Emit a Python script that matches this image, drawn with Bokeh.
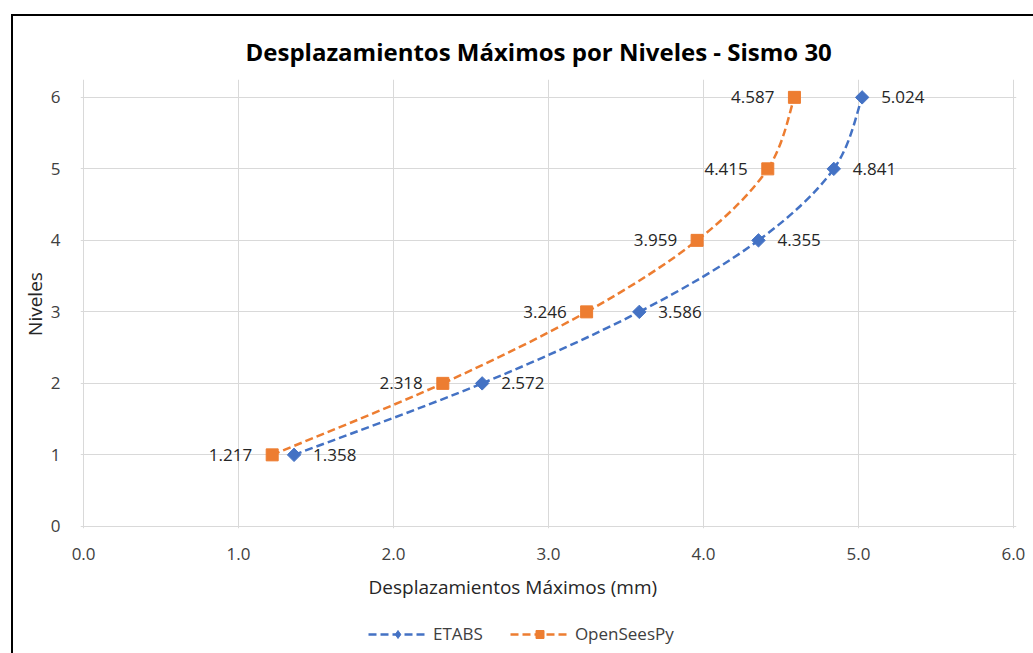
from bokeh.plotting import figure
from bokeh.layouts import column
from bokeh.models import (Range1d, Legend, LegendItem, Title, InlineStyleSheet,
                          ColumnDataSource, LabelSet, FixedTicker, PrintfTickFormatter)
from bokeh.embed import file_html
from bokeh.resources import INLINE
from bokeh.core.properties import value

# ---- data ----
niveles = [1, 2, 3, 4, 5, 6]
etabs = [1.358, 2.572, 3.586, 4.355, 4.841, 5.024]
opensees = [1.217, 2.318, 3.246, 3.959, 4.415, 4.587]
x_ticks = [0, 1, 2, 3, 4, 5, 6]
y_ticks = [0, 1, 2, 3, 4, 5, 6]
title_text = "Desplazamientos Máximos por Niveles - Sismo 30"
x_label = "Desplazamientos Máximos (mm)"
y_label = "Niveles"
series_names = ["ETABS", "OpenSeesPy"]

FONT = "Open Sans"
BLUE = "#4472C4"
ORANGE = "#ED7D31"
GRID = "#d9d9d9"


def frame_css(top):
    return InlineStyleSheet(css=(
        ":host { overflow: hidden; }"
        ":host::after { content: ''; position: absolute; left: 11px; top: %dpx;"
        " width: 1060px; height: 1200px; border: 2.5px solid black;"
        " pointer-events: none; z-index: 10; }" % top))


p = figure(width=1033, height=613, output_backend="svg", toolbar_location=None,
           x_range=Range1d(-0.02, 6.02), y_range=Range1d(-0.03, 6.25),
           min_border_left=80, min_border_right=17, min_border_top=79, min_border_bottom=85)
p.background_fill_color = "white"
p.border_fill_color = "white"
p.outline_line_color = None
p.stylesheets = [frame_css(14)]

for ax in (p.xaxis[0], p.yaxis[0]):
    ax.axis_line_color = None
    ax.major_tick_line_color = None
    ax.minor_tick_line_color = None
    ax.major_tick_in = 0
    ax.major_tick_out = 0
    ax.minor_tick_in = 0
    ax.minor_tick_out = 0
    ax.major_label_text_font = FONT
    ax.major_label_text_font_size = "17px"
    ax.major_label_text_color = "#404040"

p.xaxis.ticker = FixedTicker(ticks=x_ticks)
p.yaxis.ticker = FixedTicker(ticks=y_ticks)
p.xaxis.formatter = PrintfTickFormatter(format="%.1f")
p.xaxis.major_label_standoff = 19
p.yaxis.major_label_standoff = 20
p.yaxis.axis_label = y_label
p.yaxis.axis_label_text_font = FONT
p.yaxis.axis_label_text_font_size = "19px"
p.yaxis.axis_label_text_font_style = "normal"
p.yaxis.axis_label_text_color = "#262626"
p.yaxis.axis_label_standoff = 0

p.xgrid.grid_line_color = GRID
p.ygrid.grid_line_color = GRID
p.xgrid.ticker = FixedTicker(ticks=x_ticks)
p.ygrid.ticker = FixedTicker(ticks=y_ticks)

# title
p.title.text = title_text
p.title.align = "left"
p.title.offset = 165
p.title.standoff = 24
p.title.text_font = FONT
p.title.text_font_size = "24px"
p.title.text_font_style = "bold"
p.title.text_color = "#000000"


def smooth(xs, ys):
    n = len(xs)
    d = dict(x0=[], y0=[], x1=[], y1=[], cx0=[], cy0=[], cx1=[], cy1=[])
    for i in range(n - 1):
        im = max(i - 1, 0)
        i2 = min(i + 2, n - 1)
        d["x0"].append(xs[i]); d["y0"].append(ys[i])
        d["x1"].append(xs[i + 1]); d["y1"].append(ys[i + 1])
        d["cx0"].append(xs[i] + (xs[i + 1] - xs[im]) / 6)
        d["cy0"].append(ys[i] + (ys[i + 1] - ys[im]) / 6)
        d["cx1"].append(xs[i + 1] - (xs[i2] - xs[i]) / 6)
        d["cy1"].append(ys[i + 1] - (ys[i2] - ys[i]) / 6)
    return ColumnDataSource(d)


line_kw = dict(x0="x0", y0="y0", x1="x1", y1="y1", cx0="cx0", cy0="cy0", cx1="cx1", cy1="cy1",
               line_width=2.5, line_dash="8 4")
p.bezier(source=smooth(etabs, niveles), line_color=BLUE, **line_kw)
p.bezier(source=smooth(opensees, niveles), line_color=ORANGE, **line_kw)

p.scatter(etabs, niveles, marker="square", angle=0.785398, size=9.5,
          fill_color=BLUE, line_color=BLUE)
p.scatter(opensees, niveles, marker="square", size=12,
          fill_color=ORANGE, line_color=ORANGE)

src1 = ColumnDataSource(dict(x=etabs, y=niveles, t=[f"{v:.3f}" for v in etabs]))
src2 = ColumnDataSource(dict(x=opensees, y=niveles, t=[f"{v:.3f}" for v in opensees]))
p.add_layout(LabelSet(x="x", y="y", text="t", source=src1, x_offset=19, y_offset=0,
                      text_align="left", text_baseline="middle", text_font=value(FONT),
                      text_font_size="17px", text_color="#262626"))
p.add_layout(LabelSet(x="x", y="y", text="t", source=src2, x_offset=-20, y_offset=0,
                      text_align="right", text_baseline="middle", text_font=value(FONT),
                      text_font_size="17px", text_color="#262626"))

# x axis title (offset to match reference placement)
xt = Title(text=x_label, align="left", offset=288, standoff=19,
           text_font=FONT, text_font_size="19px", text_font_style="normal",
           text_color="#262626")
p.add_layout(xt, "below")

# ---- legend strip (separate small figure, same series) ----
p2 = figure(width=1033, height=40, output_backend="svg", toolbar_location=None,
            x_range=Range1d(100, 101), y_range=Range1d(100, 101),
            x_axis_type=None, y_axis_type=None,
            min_border_left=0, min_border_right=0, min_border_top=0, min_border_bottom=0)
p2.grid.visible = False
p2.outline_line_color = None
p2.background_fill_color = "white"
p2.border_fill_color = "white"
p2.stylesheets = [frame_css(-100)]

lb1 = p2.bezier(source=smooth(etabs, niveles), line_color=BLUE, **line_kw)
lb2 = p2.bezier(source=smooth(opensees, niveles), line_color=ORANGE, **line_kw)
ls1 = p2.scatter(etabs, niveles, marker="diamond", size=17, fill_color=BLUE, line_color=BLUE)
ls2 = p2.scatter(opensees, niveles, marker="square", size=12, fill_color=ORANGE, line_color=ORANGE)

legend = Legend(items=[LegendItem(label=series_names[0], renderers=[lb1, ls1]),
                       LegendItem(label=series_names[1], renderers=[lb2, ls2])],
                orientation="horizontal", location=(288, 8),
                glyph_width=59, glyph_height=20, label_standoff=6, spacing=27,
                padding=0, margin=0, border_line_alpha=0, background_fill_alpha=0,
                label_text_font=FONT, label_text_font_size="17px", label_text_color="#404040")
p2.add_layout(legend, "center")

layout = column(p, p2, spacing=0)
open("out.html", "w").write(file_html(layout, INLINE))
